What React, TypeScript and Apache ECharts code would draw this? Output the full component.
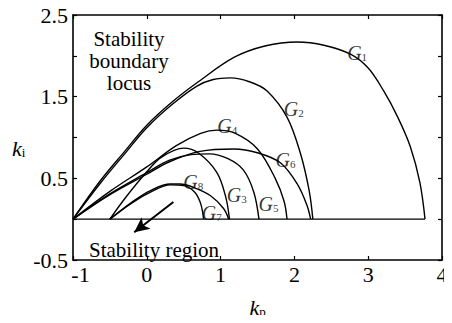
import React, { useEffect, useRef } from "react";
import * as echarts from "echarts";

// Stability boundary loci: [kp, ki]
const g1: number[][] = [[-1, 0], [-0.63, 0.47], [-0.3, 0.83], [0, 1.15], [0.35, 1.44], [0.68, 1.67], [1.18, 1.98], [1.6, 2.12], [2.04, 2.17], [2.4, 2.13], [2.76, 2.02], [3.0, 1.85], [3.21, 1.57], [3.4, 1.25], [3.57, 0.89], [3.7, 0.45], [3.77, 0]];
const g2: number[][] = [[-1, 0], [-0.63, 0.44], [-0.3, 0.8], [0, 1.12], [0.35, 1.41], [0.68, 1.63], [0.9, 1.71], [1.13, 1.73], [1.4, 1.68], [1.63, 1.57], [1.9, 1.25], [2.08, 0.81], [2.2, 0.35], [2.25, 0]];
const g3: number[][] = [[-0.5, 0], [-0.3, 0.25], [0, 0.58], [0.2, 0.76], [0.5, 0.87], [0.7, 0.81], [0.95, 0.57], [1.07, 0.27], [1.12, 0]];
const g4: number[][] = [[-1, 0], [-0.5, 0.34], [0, 0.64], [0.4, 0.9], [0.73, 1.05], [0.95, 1.09], [1.2, 1.05], [1.5, 0.86], [1.74, 0.5], [1.86, 0.22], [1.9, 0]];
const g5: number[][] = [[-1, 0], [-0.5, 0.31], [0, 0.57], [0.3, 0.72], [0.6, 0.79], [0.85, 0.8], [1.1, 0.74], [1.31, 0.6], [1.45, 0.33], [1.52, 0]];
const g6: number[][] = [[-1, 0], [-0.5, 0.3], [0, 0.55], [0.3, 0.7], [0.72, 0.83], [1.18, 0.86], [1.51, 0.81], [1.81, 0.69], [2.04, 0.43], [2.17, 0.17], [2.22, 0]];
const g7: number[][] = [[-0.5, 0], [-0.2, 0.2], [0.05, 0.33], [0.32, 0.42], [0.5, 0.41], [0.65, 0.33], [0.73, 0.19], [0.77, 0]];
const g8: number[][] = [[-0.5, 0], [-0.2, 0.21], [0.05, 0.35], [0.32, 0.43], [0.45, 0.43], [0.63, 0.39], [0.86, 0.29], [1.04, 0.13], [1.11, 0]];
const baseline: number[][] = [[-1, 0], [3.77, 0]];

const curveNames = ["G1", "G2", "G3", "G4", "G5", "G6", "G7", "G8"];
const curves = [g1, g2, g3, g4, g5, g6, g7, g8];

// label anchor points [kp, ki, index]
const curveLabels: (number | string)[][] = [
  [2.85, 2.04, "1"], [1.99, 1.35, "2"], [1.22, 0.29, "3"], [1.09, 1.14, "4"],
  [1.65, 0.19, "5"], [1.88, 0.73, "6"], [0.88, 0.07, "7"], [0.63, 0.46, "8"],
];

const arrowFrom = [0.36, 0.21];
const arrowTo = [-0.17, -0.16];

const xTicks = [-1, 0, 1, 2, 3, 4];
const yTickLabels = ["2.5", "1.5", "0.5", "-0.5"];

const FONT = '"Liberation Serif", "Times New Roman", serif';

export default function App() {
  const ref = useRef<HTMLDivElement>(null);
  useEffect(() => {
    if (!ref.current) return;
    const chart = echarts.init(ref.current, null, { renderer: "svg" });
    const axisCommon = {
      axisLine: { show: true, onZero: false, lineStyle: { color: "#000", width: 1.6 } },
      axisTick: { show: true, inside: true, length: 4, lineStyle: { color: "#000", width: 1.2 } },
      splitLine: { show: false },
    };
    const lineSeries = curves.map((d, i) => ({
      type: "line",
      name: curveNames[i],
      data: d,
      smooth: 0.35,
      showSymbol: false,
      symbol: "none",
      lineStyle: { color: "#000", width: 1.4 },
      z: 3,
    }));
    chart.setOption({
      animation: false,
      backgroundColor: "#fff",
      grid: { left: 73, right: 10, top: 15, bottom: 56 },
      xAxis: [
        {
          type: "value", min: -1, max: 4, interval: 1, position: "bottom",
          ...axisCommon,
          axisLabel: {
            color: "#000", fontFamily: FONT, fontSize: 22, margin: 3,
            formatter: (v: number) => {
              if (!xTicks.includes(v)) return "";
              return v === xTicks[0] ? `{m|${v}}` : String(v);
            },
            rich: {
              m: { fontFamily: FONT, fontSize: 22, color: "#000", padding: [0, 0, 0, 15] },
            },
          },
          name: "{k|k}{s|p}", nameLocation: "middle", nameGap: 36,
          nameTextStyle: {
            rich: {
              k: { fontFamily: FONT, fontSize: 22, fontStyle: "italic", color: "#000" },
              s: { fontFamily: FONT, fontSize: 13, color: "#000", padding: [9, 0, 0, 0] },
            },
          },
        },
        {
          type: "value", min: -1, max: 4, interval: 1, position: "top",
          ...axisCommon, axisLabel: { show: false },
        },
      ],
      yAxis: [
        {
          type: "value", min: -0.5, max: 2.5, interval: 0.5, position: "left",
          ...axisCommon,
          axisLabel: {
            color: "#000", fontFamily: FONT, fontSize: 22, margin: 5,
            formatter: (v: number) => {
              const s = String(v);
              return yTickLabels.includes(s) ? s : "";
            },
          },
        },
        {
          type: "value", min: -0.5, max: 2.5, interval: 0.5, position: "right",
          ...axisCommon, axisLabel: { show: false },
        },
      ],
      graphic: [
        {
          type: "text", left: 12, top: 137,
          style: {
            text: "{k|k}{s|i}",
            rich: {
              k: { fontFamily: FONT, fontSize: 22, fontStyle: "italic", fill: "#000" },
              s: { fontFamily: FONT, fontSize: 13, fill: "#000", padding: [9, 0, 0, 0] },
            },
          },
        },
        {
          type: "text", x: 129, y: 28,
          style: {
            text: "Stability\nboundary\nlocus", textAlign: "center",
            fontFamily: FONT, fontSize: 21, lineHeight: 22, fill: "#000",
          },
        },
        {
          type: "text", x: 89, y: 239,
          style: { text: "Stability region", fontFamily: FONT, fontSize: 21, fill: "#000" },
        },
      ],
      series: [
        ...lineSeries,
        {
          type: "line", data: baseline, symbol: "none",
          lineStyle: { color: "#000", width: 1.4 }, z: 3,
          markLine: {
            silent: true,
            symbol: ["none", "arrow"],
            symbolSize: [11, 15],
            label: { show: false },
            lineStyle: { color: "#000", width: 2, type: "solid" },
            data: [[{ coord: arrowFrom }, { coord: arrowTo }]],
          },
        },
        {
          type: "scatter", data: curveLabels, symbolSize: 0, z: 5,
          label: {
            show: true, position: "inside",
            formatter: (p: any) => `{g|G}{s|${p.value[2]}}`,
            rich: {
              g: { fontFamily: FONT, fontSize: 20, fontStyle: "italic", color: "#000" },
              s: { fontFamily: FONT, fontSize: 11, color: "#000", padding: [8, 0, 0, 0] },
            },
          },
        },
      ],
    });
    return () => chart.dispose();
  }, []);
  return <div ref={ref} style={{ width: 452, height: 323, margin: -8 }} />;
}
